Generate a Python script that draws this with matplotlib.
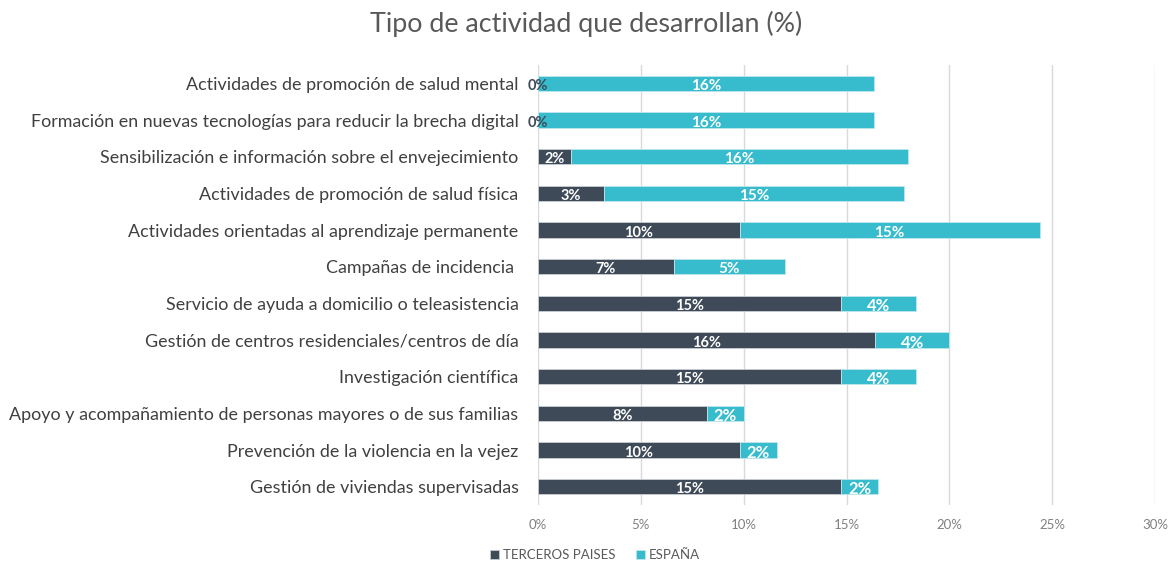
import numpy as np
import matplotlib.pyplot as plt
from matplotlib.ticker import PercentFormatter

plt.rcParams['font.family'] = ['Lato', 'DejaVu Sans']

# data (top to bottom), values in %
categorias = [
    'Actividades de promoción de salud mental',
    'Formación en nuevas tecnologías para reducir la brecha digital',
    'Sensibilización e información sobre el envejecimiento',
    'Actividades de promoción de salud física',
    'Actividades orientadas al aprendizaje permanente',
    'Campañas de incidencia ',
    'Servicio de ayuda a domicilio o teleasistencia',
    'Gestión de centros residenciales/centros de día',
    'Investigación científica',
    'Apoyo y acompañamiento de personas mayores o de sus familias',
    'Prevención de la violencia en la vejez',
    'Gestión de viviendas supervisadas',
]
terceros = [0.0, 0.0, 1.6, 3.2, 9.8, 6.6, 14.75, 16.4, 14.75, 8.2, 9.8, 14.75]
espana = [16.35, 16.35, 16.4, 14.6, 14.6, 5.4, 3.65, 3.6, 3.65, 1.8, 1.8, 1.8]

c_dark = '#3f4a59'
c_teal = '#37bccd'

fig = plt.figure(figsize=(11.73, 5.61), dpi=100)
ax = fig.add_axes([538/1173, 1-505/561, (1155-538)/1173, (505-65)/561])

y = np.arange(len(categorias))
h = 0.42
b1 = ax.barh(y, terceros, height=h, color=c_dark, edgecolor='#c8cdd3', linewidth=0.6,
             label='TERCEROS PAISES', zorder=3)
b2 = ax.barh(y, espana, left=terceros, height=h, color=c_teal, edgecolor='#bfe6ec',
             linewidth=0.6, label='ESPAÑA', zorder=3)

# data labels
for i in range(len(categorias)):
    t = terceros[i]
    e = espana[i]
    ax.text(t / 2, y[i] + 0.03, f'{t:.0f}%', ha='center', va='center_baseline', fontsize=10.5,
            fontweight='bold', color='white' if t > 0.5 else c_dark, zorder=4)
    ax.text(t + e / 2, y[i] + 0.03, f'{e:.0f}%', ha='center', va='center_baseline',
            fontsize=12 if e < 5 else 11, fontweight='bold', color='white', zorder=4)

ax.set_xlim(0, 30)
ax.set_ylim(len(categorias) - 0.5, -0.5)
ax.set_xticks(np.arange(0, 31, 5))
ax.xaxis.set_major_formatter(PercentFormatter(decimals=0))
ax.set_yticks(y)
ax.set_yticklabels(categorias, fontsize=12.9, color='#404040')
ax.tick_params(axis='y', length=0, pad=14)
ax.tick_params(axis='x', length=0, labelsize=9.5, colors='#808080', pad=10)
ax.grid(axis='x', color='#d9d9d9', linewidth=1, zorder=0)
for s in ax.spines.values():
    s.set_visible(False)

fig.suptitle('Tipo de actividad que desarrollan (%)', fontsize=19.4, color='#595959', y=0.98)
fig.legend(handles=[b1, b2], loc='center', bbox_to_anchor=(595/1173, 1-555/561), ncol=2,
           frameon=False, fontsize=9.5, handlelength=0.7, handleheight=0.7,
           handletextpad=0.3, columnspacing=1.5, labelcolor='#595959')

fig.savefig('out.png', dpi=100)
